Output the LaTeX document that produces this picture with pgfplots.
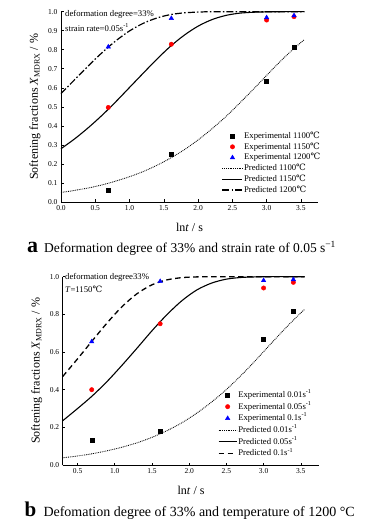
\documentclass[border=0pt]{standalone}
\usepackage{fontspec}
\setmainfont{Liberation Serif}
\newfontfamily\dvs{DejaVu Serif}
\usepackage{pgfplots}
\pgfplotsset{compat=1.18}
\newcommand{\degC}{{\dvs ℃}}
\pgfplotsset{
 base/.style={
  scale only axis,
  axis x line*=bottom, axis y line*=left,
  tick align=inside,
  major tick length=2.5pt,
  minor tick num=0,
  tick style={line width=0.6pt, black},
  axis line style={line width=0.7pt},
  ticklabel style={font=\fontsize{7.5}{8}\selectfont},
  /pgf/number format/assume math mode=true,
  xticklabel style={/pgf/number format/.cd,fixed,fixed zerofill,precision=1},
  yticklabel style={/pgf/number format/.cd,fixed,fixed zerofill,precision=1},
  clip=false,
  xlabel style={font=\fontsize{12}{14}\selectfont, at={([yshift=-25pt]axis description cs:0.5,0)}, anchor=center},
  ylabel style={font=\fontsize{12}{14}\selectfont, at={([xshift=-26pt]axis description cs:0,0.5)}, anchor=center},
  legend cell align=left,
  legend style={draw=none, fill=none, inner sep=0pt, outer sep=0pt, anchor=north west, row sep=0pt},
 },
 legl/.style={legend image code/.code={\draw[##1] (0pt,0pt) -- (#1,0pt);}},
 legm/.style={legend image code/.code={\draw[mark repeat=2,mark phase=2,##1] plot coordinates {(0pt,0pt) (0.5*#1,0pt) (#1,0pt)};}},
 expA/.style={only marks, mark=square*, mark size=2pt, black},
 expB/.style={only marks, mark=*, mark size=2.2pt, red},
 expC/.style={only marks, mark=triangle*, mark size=2.6pt, blue},
}
\begin{document}
\begin{tikzpicture}
\path[use as bounding box] (0,0) rectangle (368pt,-521pt);
% ---------------- panel a
\begin{axis}[base,
  at={(61pt,-202pt)}, anchor=south west,
  width=257pt, height=190.3pt,
  xmin=0, xmax=3.75, ymin=0, ymax=1.0,
  xtick={0,0.5,...,3.5}, ytick={0,0.1,...,1.0},
  xlabel={ln\textit{t} / s},
  ylabel={Softening fractions \textit{X}\textsubscript{MDRX} / \%},
  legend style={at={(rel axis cs:0.626,0.375)}, font=\fontsize{8.7}{10}\selectfont,
    nodes={text height=6.6pt, text depth=2.2pt, inner sep=1pt}},
]
\addplot[expA, legm=20pt] coordinates {(0.69,0.061) (1.61,0.253) (3.0,0.637) (3.4,0.815)};
\addlegendentry{Experimental 1100\degC}
\addplot[expB, legm=20pt] coordinates {(0.69,0.497) (1.61,0.829) (3.0,0.956) (3.4,0.974)};
\addlegendentry{Experimental 1150\degC}
\addplot[expC, legm=20pt] coordinates {(0.69,0.815) (1.61,0.965) (3.0,0.969) (3.4,0.979)};
\addlegendentry{Experimental 1200\degC}
\addplot[black, line width=0.85pt, dash pattern=on 0.85pt off 0.95pt, smooth, legl=20pt] coordinates {
(0,0.050) (0.2,0.061) (0.4,0.074) (0.6,0.090) (0.8,0.110) (1.0,0.133) (1.2,0.160) (1.4,0.193) (1.6,0.231) (1.8,0.275) (2.0,0.326) (2.2,0.384) (2.4,0.447) (2.6,0.517) (2.8,0.590) (3.0,0.665) (3.2,0.739) (3.4,0.807) (3.55,0.853)};
\addlegendentry{Predicted 1100\degC}
\addplot[black, line width=1.1pt, smooth, legl=20pt] coordinates {
(0,0.280) (0.2,0.332) (0.4,0.391) (0.6,0.456) (0.8,0.527) (1.0,0.602) (1.2,0.677) (1.4,0.751) (1.6,0.819) (1.8,0.877) (2.0,0.924) (2.2,0.958) (2.4,0.980) (2.6,0.992) (2.8,0.997) (3.0,0.999) (3.2,1.0) (3.4,1.0) (3.55,1.0)};
\addlegendentry{Predicted 1150\degC}
\addplot[black, line width=1.2pt, dash pattern=on 7pt off 2.2pt on 1.5pt off 2.2pt, smooth, legl=20pt] coordinates {
(0,0.570) (0.2,0.643) (0.4,0.716) (0.6,0.785) (0.8,0.847) (1.0,0.899) (1.2,0.939) (1.4,0.967) (1.6,0.985) (1.8,0.994) (2.0,0.998) (2.2,1.0) (2.5,1.0) (2.9,1.0) (3.2,1.0) (3.55,1.0)};
\addlegendentry{Predicted 1200\degC}
\end{axis}
\node[anchor=west, inner sep=0pt, font=\fontsize{8.7}{10}\selectfont] at (65pt,-14pt) {deformation degree=33\%};
\node[anchor=west, inner sep=0pt, font=\fontsize{8.7}{10}\selectfont] at (65pt,-27.7pt) {strain rate=0.05s\textsuperscript{-1}};
\node[anchor=base west, inner sep=0pt, font=\bfseries\fontsize{22}{22}\selectfont] at (27pt,-252.5pt) {a};
\node[anchor=base west, inner sep=0pt, font=\fontsize{13.5}{15}\selectfont] at (44pt,-252.5pt) {Deformation degree of 33\% and strain rate of 0.05 s\textsuperscript{−1}};
% ---------------- panel b
\begin{axis}[base,
  at={(62.7pt,-465pt)}, anchor=south west,
  width=256.7pt, height=188.3pt,
  xmin=0.3, xmax=3.75, ymin=0, ymax=1.0,
  xtick={0.5,1.0,...,3.5}, ytick={0,0.2,...,1.0},
  xlabel={ln\textit{t} / s},
  ylabel={Softening fractions \textit{X}\textsubscript{MDRX} / \%},
  legend style={at={(rel axis cs:0.605,0.403)}, font=\fontsize{8.7}{10}\selectfont,
    nodes={text height=7.3pt, text depth=2.4pt, inner sep=1pt}},
]
\addplot[expA, legm=18pt] coordinates {(0.69,0.13) (1.61,0.18) (3.0,0.67) (3.4,0.815)};
\addlegendentry{Experimental 0.01s\textsuperscript{-1}}
\addplot[expB, legm=18pt] coordinates {(0.69,0.40) (1.61,0.75) (3.0,0.94) (3.4,0.97)};
\addlegendentry{Experimental 0.05s\textsuperscript{-1}}
\addplot[expC, legm=18pt] coordinates {(0.69,0.655) (1.61,0.975) (3.0,0.98) (3.4,0.985)};
\addlegendentry{Experimental 0.1s\textsuperscript{-1}}
\addplot[black, line width=0.85pt, dash pattern=on 0.85pt off 0.95pt, smooth, legl=18pt] coordinates {
(0.3,0.038) (0.5,0.048) (0.7,0.060) (0.9,0.076) (1.1,0.095) (1.3,0.118) (1.5,0.147) (1.7,0.182) (1.9,0.224) (2.1,0.275) (2.3,0.334) (2.5,0.401) (2.7,0.477) (2.9,0.559) (3.1,0.645) (3.3,0.729) (3.5,0.808) (3.55,0.826)};
\addlegendentry{Predicted 0.01s\textsuperscript{-1}}
\addplot[black, line width=1.1pt, smooth, legl=18pt] coordinates {
(0.3,0.235) (0.5,0.300) (0.7,0.368) (0.9,0.445) (1.1,0.531) (1.3,0.621) (1.5,0.713) (1.7,0.798) (1.9,0.872) (2.1,0.929) (2.3,0.966) (2.5,0.987) (2.7,0.996) (2.9,0.999) (3.1,1.0) (3.3,1.0) (3.55,1.0)};
\addlegendentry{Predicted 0.05s\textsuperscript{-1}}
\addplot[black, line width=1.3pt, dash pattern=on 5.5pt off 3.5pt, smooth, legl=18pt] coordinates {
(0.3,0.470) (0.5,0.564) (0.7,0.661) (0.9,0.756) (1.1,0.842) (1.3,0.910) (1.5,0.957) (1.7,0.983) (1.9,0.995) (2.1,0.999) (2.3,1.0) (2.6,1.0) (2.9,1.0) (3.2,1.0) (3.55,1.0)};
\addlegendentry{Predicted 0.1s\textsuperscript{-1}}
\end{axis}
\node[anchor=west, inner sep=0pt, font=\fontsize{8.7}{10}\selectfont] at (65pt,-277.3pt) {deformation degree33\%};
\node[anchor=west, inner sep=0pt, font=\fontsize{8.7}{10}\selectfont] at (65pt,-289.3pt) {\textit{T}=1150\degC};
\node[anchor=base west, inner sep=0pt, font=\bfseries\fontsize{21}{22}\selectfont] at (24.5pt,-516.5pt) {b};
\node[anchor=base west, inner sep=0pt, font=\fontsize{14}{15}\selectfont] at (43.3pt,-516.5pt) {Defomation degree of 33\% and temperature of 1200 °C};
\end{tikzpicture}
\end{document}
